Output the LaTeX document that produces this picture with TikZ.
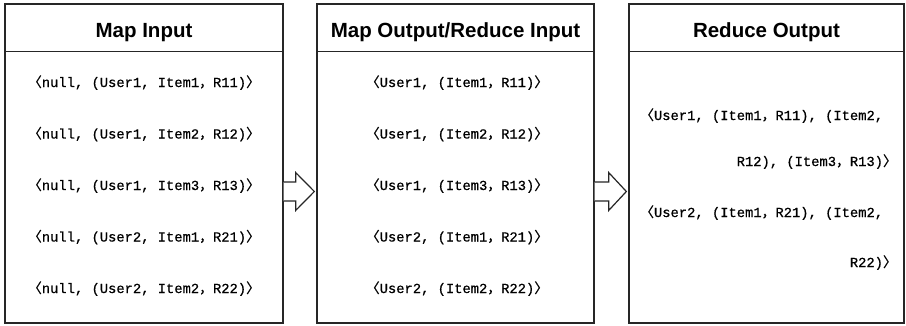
\documentclass[tikz,border=0pt]{standalone}
\usepackage{fontspec}
\setmainfont{Liberation Mono}
\newfontfamily\rowfont[FakeBold=0.6]{Liberation Mono}
\newfontfamily\headfont{Liberation Sans}
\newfontfamily\cjk[FakeBold=0.6]{Noto Sans CJK SC}
\usetikzlibrary{calc}
\newcommand\lbr{{\cjk 〈}}
\newcommand\rbr{{\cjk 〉}}
\newcommand\fcm{{\cjk ，}}
\begin{document}
\begin{tikzpicture}[x=1pt,y=1pt,
  panel/.style={draw=black!85,line width=1.3pt,rectangle,inner sep=0pt,minimum height=319pt},
  headtxt/.style={font=\headfont\bfseries\fontsize{20.5}{22}\selectfont,anchor=base,inner sep=0pt},
  rowtxt/.style={font=\rowfont\fontsize{13.8}{16}\selectfont,anchor=base,inner sep=0pt},
  harrow/.style={draw=black!85,line width=1.2pt,fill=white,line join=miter}]
\useasboundingbox[fill=white] (0,0) rectangle (906,325);
\node[panel,minimum width=278pt] (b1) at (144,161.5) {};
\node[panel,minimum width=277pt] (b2) at (455.5,161.5) {};
\node[panel,minimum width=275pt] (b3) at (766.5,161.5) {};
\foreach \b in {b1,b2,b3}{
  \draw[draw=black!85,line width=1.3pt] ([yshift=-48]\b.north west) -- ([yshift=-48]\b.north east);
}
\node[headtxt] (h1) at (144,287.5) {Map Input};
\node[headtxt] (h2) at (455.5,287.5) {Map Output/Reduce Input};
\node[headtxt] (h3) at (766.5,287.5) {Reduce Output};
% box 1 rows
\node[rowtxt] (m1) at (144,238) {\lbr null, (User1, Item1\fcm R11)\rbr};
\node[rowtxt] (m2) at (144,186.5) {\lbr null, (User1, Item2\fcm R12)\rbr};
\node[rowtxt] (m3) at (144,135) {\lbr null, (User1, Item3\fcm R13)\rbr};
\node[rowtxt] (m4) at (144,83.5) {\lbr null, (User2, Item1\fcm R21)\rbr};
\node[rowtxt] (m5) at (144,32) {\lbr null, (User2, Item2\fcm R22)\rbr};
% box 2 rows
\node[rowtxt] (r1) at (457,238) {\lbr User1, (Item1\fcm R11)\rbr};
\node[rowtxt] (r2) at (457,186.5) {\lbr User1, (Item2\fcm R12)\rbr};
\node[rowtxt] (r3) at (457,135) {\lbr User1, (Item3\fcm R13)\rbr};
\node[rowtxt] (r4) at (457,83.5) {\lbr User2, (Item1\fcm R21)\rbr};
\node[rowtxt] (r5) at (457,32) {\lbr User2, (Item2\fcm R22)\rbr};
% box 3 rows
\node[rowtxt,anchor=base west] (o1) at (640,205) {\lbr User1, (Item1\fcm R11), (Item2,};
\node[rowtxt,anchor=base east] (o2) at (897,159) {R12), (Item3\fcm R13)\rbr};
\node[rowtxt,anchor=base west] (o3) at (640,108) {\lbr User2, (Item1\fcm R21), (Item2,};
\node[rowtxt,anchor=base east] (o4) at (897,58) {R22)\rbr};
% arrows
\coordinate (ay) at (0,133.5);
\coordinate (s1) at (b1.east |- ay);
\coordinate (t1) at ([xshift=-2]b2.west |- ay);
\coordinate (s2) at (b2.east |- ay);
\coordinate (t2) at ([xshift=-2]b3.west |- ay);
\draw[harrow] ([yshift=9.5]s1) -- ([xshift=12,yshift=9.5]s1) -- ([xshift=12,yshift=19]s1) -- (t1)
  -- ([xshift=12,yshift=-19]s1) -- ([xshift=12,yshift=-9.5]s1) -- ([yshift=-9.5]s1);
\draw[harrow] ([yshift=9.5]s2) -- ([xshift=14,yshift=9.5]s2) -- ([xshift=14,yshift=19]s2) -- (t2)
  -- ([xshift=14,yshift=-19]s2) -- ([xshift=14,yshift=-9.5]s2) -- ([yshift=-9.5]s2);
\end{tikzpicture}
\end{document}
